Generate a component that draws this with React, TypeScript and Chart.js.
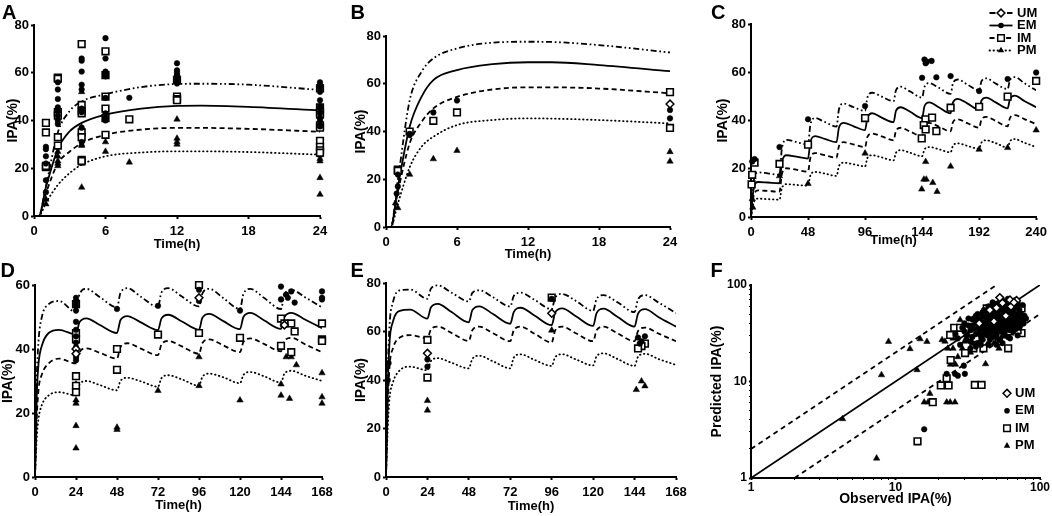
import React, { useEffect, useRef } from 'react';
import { Chart, registerables } from 'chart.js';

Chart.register(...registerables);

type Pt = [number, number];

// ---------------- Panel A (single dose, 0-24 h) ----------------
const A_T = [0, 0.4, 1, 2, 3, 4, 6, 9, 12, 14, 18, 24];
const A_UM = [0, 0, 12.5, 35, 44, 48, 51, 54, 55.3, 55.4, 55, 52.8];
const A_EM = [0, 0, 12, 28, 35.5, 39, 42.5, 45, 46.1, 46.2, 45.7, 44.2];
const A_IM = [0, 0, 9.5, 22, 27, 30.5, 34, 36.2, 36.9, 36.9, 36.5, 35.3];
const A_PM = [0, 0, 5.5, 13, 18, 21.5, 25, 26.6, 27.1, 27.1, 26.8, 25.7];
const A_PTS_UM: Pt[] = [];
const A_PTS_EM: Pt[] = [
  [1, 29], [1, 28], [1, 25], [1, 22], [1, 15], [1, 10],
  [2, 56], [2, 53], [2, 49], [2, 45.5], [2, 44], [2, 42], [2, 40], [2, 38.5],
  [4, 66], [4, 65], [4, 60.5], [4, 55], [4, 53], [4, 45], [4, 43.5], [4, 37], [4, 31],
  [6, 74.5], [6, 66], [6, 60.5], [6, 59.5], [6, 58.5], [6, 49.5], [6, 43], [6, 41], [6, 40],
  [8, 49.5],
  [12, 64], [12, 61], [12, 60], [12, 59], [12, 58.5], [12, 57.5], [12, 56.5], [12, 55.5],
  [24, 56], [24, 55], [24, 54.5], [24, 53.5], [24, 52], [24, 48.5], [24, 46], [24, 45], [24, 43], [24, 41], [24, 40], [24, 38], [24, 37.5],
];
const A_PTS_IM: Pt[] = [
  [1, 39], [1, 35], [1, 20.5], [1, 21],
  [2, 58], [2, 57.5], [2, 43.5], [2, 42], [2, 33], [2, 29.5],
  [4, 72], [4, 46.5], [4, 44], [4, 43], [4, 35], [4, 33], [4, 23.5], [4, 23],
  [6, 69], [6, 59], [6, 50], [6, 45], [6, 41], [6, 34],
  [8, 40.5],
  [12, 57], [12, 50], [12, 49], [12, 48.5],
  [24, 53.5], [24, 45.5], [24, 43.5], [24, 42.5], [24, 38], [24, 37], [24, 31.5], [24, 29], [24, 27.5], [24, 26.5],
];
const A_PTS_PM: Pt[] = [
  [1, 7], [1, 5], [2, 27], [2, 25], [2, 23], [2, 22], [2, 21],
  [4, 52], [4, 37], [4, 36], [4, 30], [4, 29.5], [4, 22], [4, 12],
  [6, 31], [6, 27], [8, 22.5], [12, 40.5], [12, 32.5], [12, 31], [12, 30],
  [24, 25.5], [24, 24], [24, 23], [24, 16], [24, 9],
];

// ---------------- Panel B ----------------
const B_T = [0, 0.4, 1, 2, 3, 4, 6, 9, 12, 14, 18, 24];
const B_UM = [0, 0, 19.6, 53, 65, 70.6, 74.8, 77.2, 77.6, 77.5, 76.2, 73.1];
const B_EM = [0, 0, 16.8, 42, 54.5, 61.5, 65.7, 68.2, 69, 69, 67.8, 65.3];
const B_IM = [0, 0, 14.7, 35, 44, 49.7, 54.5, 57.6, 58.5, 58.5, 58, 56];
const B_PM = [0, 0, 9.8, 25, 33.6, 37.8, 42.7, 44.8, 45.5, 45.4, 44.8, 43.4];
const B_PTS_UM: Pt[] = [[24, 51.5]];
const B_PTS_EM: Pt[] = [[1, 22], [1, 17], [0.9, 14], [2, 39], [2, 38.5], [4, 48], [6, 53], [24, 49], [24, 45.5]];
const B_PTS_IM: Pt[] = [[1, 24], [1, 23.5], [2, 40], [4, 44.5], [6, 48], [24, 56.5], [24, 41.5]];
const B_PTS_PM: Pt[] = [[1, 8], [0.8, 10], [2, 22], [4, 28.5], [6, 32], [24, 31.5], [24, 27.5]];

// ---------------- Panel C (0-240 h, dosing every 24 h) ----------------
const C_T = [0, 2, 6, 14, 24, 26, 30, 38, 48, 50, 54, 62, 72, 74, 78, 86, 96, 98, 102, 110, 120, 122, 126, 134,
  144, 146, 150, 158, 168, 170, 174, 182, 192, 194, 198, 206, 216, 218, 222, 230, 240];
const C_UM = [0, 14, 18.5, 18.1, 17.5, 28.4, 32, 31.1, 30, 38.3, 41, 39.4, 37.5, 44.6, 47, 45.6, 44, 49.6, 51.5, 49.9,
  48, 52.5, 54, 52, 49.5, 53.9, 55.5, 53.6, 51, 55.5, 57, 54.9, 52.5, 56.3, 57.5, 55.3, 53, 56.8, 58, 55.5, 52.5];
const C_EM = [0, 11, 14.5, 14.3, 14, 22.7, 25.6, 25, 24.2, 31.2, 33.5, 32.4, 31, 37, 39, 37.7, 36, 41.2, 43, 41.2,
  39.3, 44, 45.5, 43.6, 41, 45.9, 47.5, 45.5, 43, 47.5, 49, 47.1, 44.5, 48.3, 49.5, 47.5, 45, 49, 50.3, 48.1, 45.5];
const C_IM = [0, 8.3, 11, 10.8, 10.5, 17.8, 20.2, 19.6, 18.8, 24.6, 26.5, 25.6, 24.6, 29.4, 31, 30.1, 29, 33.2, 34.6, 33.4,
  31.8, 35.7, 37, 35.4, 33.5, 37.6, 39, 37.5, 35.5, 39.3, 40.5, 38.9, 37, 40.4, 41.5, 39.8, 37.6, 41.1, 42.2, 40.6, 38.5];
const C_PM = [0, 5.8, 7.6, 7.4, 7.2, 12, 13.6, 13.3, 13, 17.3, 18.7, 18, 17, 21.1, 22.5, 21.9, 21, 24.5, 25.6, 24.7,
  23.5, 26.6, 27.7, 26.6, 25.2, 28, 29, 28.1, 26.8, 29.6, 30.5, 29.5, 28.3, 30.9, 31.8, 30.6, 28.8, 31.4, 32.3, 30.8, 29];
const C_PTS_UM: Pt[] = [];
const C_PTS_EM: Pt[] = [[1, 23], [3, 24], [24, 29], [48, 40.5], [96, 46], [144, 57.7], [146, 65.3], [148, 64.4],
  [147, 63.7], [152, 64.7], [156, 57.9], [168, 58.4], [192, 52.2], [216, 57.2], [240, 59.9]];
const C_PTS_IM: Pt[] = [[0.5, 13.5], [1, 17.5], [3, 22.5], [24, 22], [48, 30], [96, 41], [146.8, 40.5], [152.4, 41.2],
  [145.4, 38.1], [147, 36.3], [156, 35.6], [143.7, 32.6], [168, 45.3], [192, 45.7], [216, 49.9], [240, 56.4]];
const C_PTS_PM: Pt[] = [[1, 7.5], [1.5, 4], [24, 17], [48, 13.8], [96, 26.4], [147, 22.9], [147.5, 15.6], [145.5, 15.6],
  [153, 14.2], [143.7, 11.5], [156.6, 10.5], [168, 21], [192, 28], [216, 28.7], [240, 36]];

// ---------------- Panels D & E (0-168 h) ----------------
const DE_T = [0, 1, 2, 4, 8, 14, 24, 26, 30, 38, 48, 50, 54, 62, 72, 74, 78, 86, 96, 98, 102, 110,
  120, 122, 126, 134, 144, 146, 150, 158, 168];
const D_UM = [0, 30, 42, 50, 54, 55, 51.5, 57, 58.8, 56.2, 53, 57.5, 59, 56.3, 53.2, 57.6, 59, 56.4, 53.3, 57.4, 58.8, 56,
  52.5, 57.2, 58.8, 56, 52.5, 57, 58.5, 56.2, 53];
const D_EM = [0, 25, 35, 41, 45, 46, 44.5, 48.3, 49.6, 47.5, 45, 49, 50.3, 48.3, 45.9, 49.5, 50.7, 48.6, 46, 49.8, 51, 48.8,
  46.2, 50, 51.3, 49, 46.3, 50, 51.3, 49.2, 46.5];
const D_IM = [0, 18, 27, 32, 35.5, 37, 35.5, 39, 40.2, 38.8, 37, 40.6, 41.8, 40.1, 38.1, 41.4, 42.5, 40.8, 38.5, 41.9, 43, 41.2,
  39, 42.2, 43.3, 41.6, 39.3, 42.5, 43.5, 41.5, 39];
const D_PM = [0, 12, 18, 22.5, 25.5, 26.5, 25.5, 28.9, 30, 28.7, 27.1, 30, 31, 29.9, 28.2, 30.9, 31.8, 30.5, 28.5, 31.3, 32.3, 31.2,
  29.3, 31.9, 32.8, 31.5, 29.5, 32.3, 33.2, 31.7, 30];
const D_PTS_UM: Pt[] = [[24, 40], [24, 38.5], [96, 56], [146, 47.5]];
const D_PTS_EM: Pt[] = [[24, 56], [24, 55], [24, 54.5], [24, 53.5], [24, 52], [24, 48.5], [24, 46], [24, 44], [24, 42],
  [24, 40.5], [24, 38.5], [24, 37.5], [24, 36.5], [48, 52.5], [72, 53.5], [96, 58.5], [96, 55], [120, 52],
  [144, 59.5], [147, 57], [150, 58], [144, 55.5], [148, 56], [152, 54.5], [168, 58], [168, 56], [168, 55.5]];
const D_PTS_IM: Pt[] = [[24, 54], [24, 45], [24, 43], [24, 31.5], [24, 28.5], [24, 26.5], [48, 40], [48, 33.5], [72, 44.5],
  [96, 60], [96, 45], [120, 43.5], [144, 49.5], [146, 48], [150, 48], [152, 45.5], [144, 41], [150, 39],
  [168, 48], [168, 43], [168, 42.5]];
const D_PTS_PM: Pt[] = [[24, 29], [24, 24], [24, 23], [24, 16], [24, 9], [48, 15.5], [48, 14.8], [72, 27], [96, 37.5],
  [96, 28.5], [120, 24], [147, 37.5], [150, 37.5], [153, 35], [144, 29], [144, 25.5], [149, 24.5], [168, 32.5],
  [168, 25], [168, 23]];

const E_UM = [0, 42, 62, 72, 77, 77.3, 73.5, 77.6, 79, 76, 72.4, 75.9, 77, 74.1, 70.3, 74.6, 76, 73.1, 69.2, 74, 75.5, 72.6,
  68.5, 73.4, 75, 72.1, 68, 73.3, 75, 71.9, 67.6];
const E_EM = [0, 36, 55, 64, 68.5, 69, 65.3, 69.9, 71.4, 68, 63.8, 68.8, 70.4, 67.2, 63.2, 68, 69.8, 66.6, 62.6, 67.8, 69.5, 66.3,
  62.3, 67.6, 69.4, 66.1, 62, 67.4, 69.2, 65.9, 62];
const E_IM = [0, 28, 45, 53, 57.5, 58.5, 57.2, 60.8, 62, 59.4, 56.1, 60.5, 62, 59.3, 56, 60.5, 62, 59.1, 55.5, 60.4, 62, 59.3,
  56, 60.5, 62, 59.3, 56, 60.2, 61.6, 59.1, 56];
const E_PM = [0, 20, 32, 39, 44, 45.5, 44, 47.8, 49, 47.1, 44.8, 48.7, 50, 47.7, 44.8, 49.2, 50.6, 48.3, 45.8, 49.4, 50.6, 48.5,
  46, 49.8, 51, 48.7, 45.8, 49.6, 50.8, 48.6, 46.2];
const E_PTS_UM: Pt[] = [[24, 51], [96, 67.5]];
const E_PTS_EM: Pt[] = [[1.5, 47], [1, 40], [24, 48.5], [24, 45.5], [96, 73.5], [150, 58], [146, 57.5], [148, 56], [147, 55]];
const E_PTS_IM: Pt[] = [[24, 56.5], [24, 41], [96, 74], [150, 55], [148, 54], [146, 53]];
const E_PTS_PM: Pt[] = [[24, 31.5], [24, 27.5], [96, 60.5], [148, 39.5], [150, 37.5], [145, 36]];

// ---------------- Panel F (observed vs predicted, log-log) ----------------
const F_LINE_ID: Pt[] = [[1, 1], [100, 100]];
const F_LINE_UP: Pt[] = [[1, 2], [50, 100]];
const F_LINE_LO: Pt[] = [[2, 1], [100, 50]];
const F_PTS_UM: Pt[] = [[52.7, 74], [68.8, 69], [45, 55], [58, 48], [63, 60], [48, 42], [38, 40], [55, 65], [62, 70],
  [66, 66], [50, 58]];
const F_PTS_EM: Pt[] = [
  [15.8, 3.2], [22.6, 12], [25.8, 12], [29.7, 14.6], [30.2, 12], [27, 11.5], [76.7, 42.7], [75.8, 62],
  [28, 24], [30, 33], [31, 27], [32, 38], [33, 22], [34, 29], [34, 44], [35, 35], [36, 31], [36, 40], [37, 25],
  [38, 44], [38, 34], [39, 38], [40, 27], [40, 47], [41, 31], [41, 34], [42, 40], [42, 52], [43, 30], [43, 36],
  [44, 50], [44, 24], [45, 43], [45, 38], [46, 33], [46, 56], [47, 29], [47, 39], [48, 46], [48, 35], [49, 52],
  [49, 42], [50, 36], [50, 30], [51, 61], [51, 44], [52, 48], [52, 27], [53, 33], [53, 40], [54, 39], [54, 58],
  [55, 55], [55, 44], [56, 30], [56, 36], [57, 50], [57, 41], [58, 36], [58, 65], [59, 42], [59, 47], [60, 47],
  [60, 29], [61, 58], [61, 38], [62, 34], [62, 44], [63, 52], [63, 40], [64, 40], [64, 68], [65, 45], [65, 33],
  [66, 63], [66, 50], [67, 37], [68, 50], [68, 42], [70, 42], [70, 58], [72, 55], [72, 36], [73, 38], [75, 45],
  [76, 43], [77, 40], [26, 31], [27, 28], [33, 26], [36, 23], [39, 24], [45, 27], [55, 25], [47, 66], [53, 70],
  [57, 62], [41, 55], [36, 48], [44, 60], [60, 72], [62, 28], [50, 24], [70, 30], [74, 50], [29, 36], [32, 45],
  [35, 45], [37, 50], [39, 30], [40, 41], [42, 36], [43, 45], [44, 32], [45, 48], [46, 41], [47, 52], [48, 38],
  [49, 33], [50, 50], [51, 39], [52, 55], [53, 45], [54, 35], [55, 49], [56, 42], [57, 33], [58, 55], [59, 38],
  [60, 52], [61, 44], [62, 62], [63, 36], [64, 49], [65, 55], [66, 44], [67, 58], [68, 35], [69, 47], [70, 66],
  [71, 50], [72, 44], [74, 40], [78, 48], [80, 45], [42, 46], [38, 36], [46, 60], [50, 64], [56, 68], [68, 70],
  [33, 34], [31, 30], [34, 38], [30, 40], [37, 42], [40, 52],
];
const F_PTS_IM: Pt[] = [
  [14.2, 2.4], [18.1, 6.1], [20.6, 9.1], [23.3, 9.1], [22.6, 10.8], [24.1, 16.7], [30.3, 19.7], [34.6, 22.1],
  [40.6, 22.1], [60.2, 22.1], [35.4, 9.2], [39.4, 9.2], [74.5, 57.2], [74.5, 31.7], [42.8, 57.2], [48.8, 55],
  [23.9, 30.4], [25.5, 36], [31.9, 35], [28, 36], [40, 38], [55, 35], [48, 30], [62, 33], [52, 26], [70, 34],
  [45, 46], [58, 42], [66, 38], [36, 28],
];
const F_PTS_PM: Pt[] = [
  [8.95, 25.9], [12.6, 21.8], [14.8, 27.6], [16.5, 25.9], [8, 11.7], [14.1, 13.2], [4.3, 4.1], [7.4, 1.6],
  [17.3, 7.5], [15.8, 6.1], [16.8, 6.1], [22.6, 6.1], [23.9, 6.1], [25.8, 6.1], [42, 15.2], [22, 26], [23, 22],
  [24, 15], [26, 15], [25, 28], [28, 43.5], [29, 22], [30, 26], [32, 30], [35, 25], [38, 32], [40, 28], [45, 35],
  [50, 38], [55, 30], [48, 25], [60, 42], [52, 22], [25, 22], [21, 27], [27, 18], [33, 20], [43, 24],
];
const F_LOG_TICKS = [1, 2, 3, 4, 5, 6, 7, 8, 9, 10, 20, 30, 40, 50, 60, 70, 80, 90, 100];
const F_LOG_LABELS = [1, 10, 100];

const GROUPS = ['UM', 'EM', 'IM', 'PM'] as const;

// ---------------- styling ----------------
const FONT = '"Liberation Sans", Arial, Helvetica, sans-serif';
const DASH: Record<string, number[]> = { UM: [6, 2.7, 1.7, 2.7, 1.7, 2.7], EM: [], IM: [5, 3.3], PM: [0.5, 3.5] };
const CAP: Record<string, string> = { UM: 'butt', EM: 'butt', IM: 'butt', PM: 'round' };
const MARK: Record<string, any> = {
  UM: { pointStyle: 'rectRot', pointRadius: 3.9, backgroundColor: '#fff', borderColor: '#000', borderWidth: 1.5 },
  EM: { pointStyle: 'circle', pointRadius: 2.8, backgroundColor: '#000', borderColor: '#000', borderWidth: 0.5 },
  IM: { pointStyle: 'rect', pointRadius: 4.7, backgroundColor: '#fff', borderColor: '#000', borderWidth: 1.6 },
  PM: { pointStyle: 'triangle', pointRadius: 3.7, backgroundColor: '#000', borderColor: '#000', borderWidth: 0.5 },
};

function drawMarker(ctx: CanvasRenderingContext2D, group: string, x: number, y: number) {
  ctx.save();
  ctx.setLineDash([]);
  ctx.lineWidth = 1.5;
  ctx.strokeStyle = '#000';
  ctx.beginPath();
  if (group === 'EM') {
    ctx.arc(x, y, 2.8, 0, Math.PI * 2);
    ctx.fillStyle = '#000';
    ctx.fill();
  } else if (group === 'IM') {
    const s = 3.3;
    ctx.rect(x - s, y - s, 2 * s, 2 * s);
    ctx.fillStyle = '#fff';
    ctx.fill();
    ctx.stroke();
  } else if (group === 'PM') {
    const r = 3.7;
    ctx.moveTo(x, y - r);
    ctx.lineTo(x + r * 0.866, y + r * 0.5);
    ctx.lineTo(x - r * 0.866, y + r * 0.5);
    ctx.closePath();
    ctx.fillStyle = '#000';
    ctx.fill();
  } else {
    const r = 3.9;
    ctx.moveTo(x, y - r);
    ctx.lineTo(x + r, y);
    ctx.lineTo(x, y + r);
    ctx.lineTo(x - r, y);
    ctx.closePath();
    ctx.fillStyle = '#fff';
    ctx.fill();
    ctx.stroke();
  }
  ctx.restore();
}

interface LegendSpec { x: number; textX: number; y: number; dy: number; lineLen: number }

function makeLegendPlugin(spec: LegendSpec) {
  return {
    id: 'phenoLegend',
    afterDatasetsDraw(chart: any) {
      const ctx: CanvasRenderingContext2D = chart.ctx;
      GROUPS.forEach((g, i) => {
        const y = spec.y + i * spec.dy;
        if (spec.lineLen > 0) {
          ctx.save();
          ctx.strokeStyle = '#000';
          ctx.lineWidth = 1.8;
          ctx.setLineDash(DASH[g]);
          ctx.lineCap = CAP[g] as CanvasLineCap;
          ctx.beginPath();
          ctx.moveTo(spec.x - spec.lineLen / 2, y);
          ctx.lineTo(spec.x + spec.lineLen / 2, y);
          ctx.stroke();
          ctx.restore();
        }
        drawMarker(ctx, g, spec.x, y);
        ctx.save();
        ctx.fillStyle = '#000';
        ctx.font = `bold 13px ${FONT}`;
        ctx.textBaseline = 'middle';
        ctx.textAlign = 'left';
        ctx.fillText(g, spec.textX, y);
        ctx.restore();
      });
    },
  };
}

const toXY = (a: Pt[]) => a.map(([x, y]) => ({ x, y }));
const curveXY = (xs: number[], ys: number[]) => xs.map((x, i) => ({ x, y: ys[i] }));

function tickFont(size: number) {
  return { family: FONT, size, weight: 'bold' as const };
}

function baseAxis(kind: 'x' | 'y', fit: number, title: string, titleSize: number, tickLen: number, pad: number, tickSize: number) {
  return {
    afterFit: (s: any) => {
      if (kind === 'x') s.height = fit;
      else s.width = fit;
    },
    ticks: { color: '#000', font: tickFont(tickSize), padding: pad, autoSkip: false, maxRotation: 0 },
    grid: { display: true, drawOnChartArea: false, drawTicks: true, tickLength: tickLen, tickWidth: 2, tickColor: '#000' },
    border: { display: true, color: '#000', width: 2 },
    title: { display: true, text: title, color: '#000', font: tickFont(titleSize), padding: 0 },
  };
}

function linAxis(kind: 'x' | 'y', min: number, max: number, step: number, fit: number, title: string, titleSize: number) {
  const b: any = baseAxis(kind, fit, title, titleSize, 3, kind === 'x' ? 5 : 2, 13);
  return { ...b, type: 'linear', min, max, ticks: { ...b.ticks, stepSize: step } };
}

function logAxis(kind: 'x' | 'y', fit: number, title: string) {
  const b: any = baseAxis(kind, fit, title, 14, 2, kind === 'x' ? 0 : 2, 12);
  return {
    ...b,
    type: 'logarithmic',
    min: 1,
    max: 100,
    afterBuildTicks: (s: any) => {
      s.ticks = F_LOG_TICKS.map((v) => ({ value: v, major: F_LOG_LABELS.includes(v) }));
    },
    ticks: { ...b.ticks, callback: (v: any) => (F_LOG_LABELS.includes(Number(v)) ? String(v) : '') },
    grid: {
      ...b.grid,
      tickWidth: (c: any) => (c.tick && F_LOG_LABELS.includes(c.tick.value) ? 2 : 1),
    },
  };
}

interface Box { L: number; T: number; W: number; H: number; padTop: number; padRight: number }

interface PanelSpec {
  letter: string;
  box: Box;
  datasets: any[];
  x: any;
  y: any;
  legend?: LegendSpec;
}

function pointDatasets(pts: Record<string, Pt[]>) {
  return GROUPS.map((g) => ({
    label: g + ' obs',
    data: toXY(pts[g]),
    showLine: false,
    clip: false,
    ...MARK[g],
  }));
}

function curveDatasets(t: number[], c: Record<string, number[]>) {
  return GROUPS.map((g) => ({
    label: g + ' pred',
    data: curveXY(t, c[g]),
    showLine: true,
    pointRadius: 0,
    borderColor: '#000',
    borderWidth: 1.8,
    borderDash: DASH[g],
    borderCapStyle: CAP[g],
    cubicInterpolationMode: 'monotone',
    fill: false,
  }));
}

function refLine(pts: Pt[], dash: number[]) {
  return {
    label: 'ref',
    data: toXY(pts),
    showLine: true,
    pointRadius: 0,
    borderColor: '#000',
    borderWidth: 1.8,
    borderDash: dash,
    fill: false,
  };
}

const PANELS: PanelSpec[] = [
  {
    letter: 'A',
    box: { L: 5, T: 0, W: 335, H: 252, padTop: 25, padRight: 20 },
    datasets: [
      ...pointDatasets({ UM: A_PTS_UM, EM: A_PTS_EM, IM: A_PTS_IM, PM: A_PTS_PM }),
      ...curveDatasets(A_T, { UM: A_UM, EM: A_EM, IM: A_IM, PM: A_PM }),
    ],
    x: linAxis('x', 0, 24, 6, 36, 'Time(h)', 13),
    y: linAxis('y', 0, 80, 20, 29, 'IPA(%)', 14),
  },
  {
    letter: 'B',
    box: { L: 353, T: 0, W: 339, H: 262, padTop: 36, padRight: 22 },
    datasets: [
      ...pointDatasets({ UM: B_PTS_UM, EM: B_PTS_EM, IM: B_PTS_IM, PM: B_PTS_PM }),
      ...curveDatasets(B_T, { UM: B_UM, EM: B_EM, IM: B_IM, PM: B_PM }),
    ],
    x: linAxis('x', 0, 24, 6, 35, 'Time(h)', 13),
    y: linAxis('y', 0, 80, 20, 33, 'IPA(%)', 14),
  },
  {
    letter: 'C',
    box: { L: 715, T: 0, W: 337, H: 248, padTop: 24, padRight: 15 },
    datasets: [
      ...pointDatasets({ UM: C_PTS_UM, EM: C_PTS_EM, IM: C_PTS_IM, PM: C_PTS_PM }),
      ...curveDatasets(C_T, { UM: C_UM, EM: C_EM, IM: C_IM, PM: C_PM }),
    ],
    x: linAxis('x', 0, 240, 48, 31, 'Time(h)', 13),
    y: linAxis('y', 0, 80, 20, 36, 'IPA(%)', 14),
    legend: { x: 286, textX: 302, y: 13, dy: 12.5, lineLen: 23 },
  },
  {
    letter: 'D',
    box: { L: 0, T: 258, W: 345, H: 255, padTop: 27, padRight: 23 },
    datasets: [
      ...pointDatasets({ UM: D_PTS_UM, EM: D_PTS_EM, IM: D_PTS_IM, PM: D_PTS_PM }),
      ...curveDatasets(DE_T, { UM: D_UM, EM: D_EM, IM: D_IM, PM: D_PM }),
    ],
    x: linAxis('x', 0, 168, 24, 36, 'Time(h)', 13),
    y: linAxis('y', 0, 60, 20, 35, 'IPA(%)', 14),
  },
  {
    letter: 'E',
    box: { L: 353, T: 258, W: 347, H: 256, padTop: 25, padRight: 24 },
    datasets: [
      ...pointDatasets({ UM: E_PTS_UM, EM: E_PTS_EM, IM: E_PTS_IM, PM: E_PTS_PM }),
      ...curveDatasets(DE_T, { UM: E_UM, EM: E_EM, IM: E_IM, PM: E_PM }),
    ],
    x: linAxis('x', 0, 168, 24, 37, 'Time(h)', 13),
    y: linAxis('y', 0, 80, 20, 33, 'IPA(%)', 14),
  },
  {
    letter: 'F',
    box: { L: 709, T: 258, W: 343, H: 250, padTop: 27, padRight: 12 },
    datasets: [
      ...pointDatasets({ UM: F_PTS_UM, EM: F_PTS_EM, IM: F_PTS_IM, PM: F_PTS_PM }),
      refLine(F_LINE_ID, []),
      refLine(F_LINE_UP, [5, 4]),
      refLine(F_LINE_LO, [5, 4]),
    ],
    x: logAxis('x', 30, 'Observed IPA(%)'),
    y: logAxis('y', 42, 'Predicted IPA(%)'),
    legend: { x: 298, textX: 306, y: 135.3, dy: 17.5, lineLen: 0 },
  },
];

const LETTER_POS: Record<string, [number, number]> = {
  A: [2, 2.4], B: [350.5, 2.4], C: [711, 2.4], D: [0.5, 260.4], E: [350.5, 260.4], F: [710.5, 260.4],
};

function Panel({ spec }: { spec: PanelSpec }) {
  const ref = useRef<HTMLCanvasElement>(null);
  useEffect(() => {
    if (!ref.current) return;
    const plugins: any[] = [];
    if (spec.legend) plugins.push(makeLegendPlugin(spec.legend));
    const chart = new Chart(ref.current, {
      type: 'scatter',
      data: { datasets: spec.datasets },
      options: {
        animation: false,
        responsive: true,
        maintainAspectRatio: false,
        events: [],
        layout: { padding: { left: 0, top: spec.box.padTop, right: spec.box.padRight, bottom: 0 } },
        plugins: { legend: { display: false }, tooltip: { enabled: false }, title: { display: false } },
        scales: { x: spec.x, y: spec.y },
      },
      plugins,
    } as any);
    return () => chart.destroy();
  }, [spec]);
  const { L, T, W, H } = spec.box;
  return (
    <div style={{ position: 'absolute', left: L, top: T, width: W, height: H }}>
      <canvas ref={ref} />
    </div>
  );
}

export default function App() {
  return (
    <div style={{ position: 'fixed', left: 0, top: 0, width: 1052, height: 516, background: '#fff', overflow: 'hidden' }}>
      {PANELS.map((p) => (
        <Panel key={p.letter} spec={p} />
      ))}
      {PANELS.map((p) => (
        <div
          key={'l' + p.letter}
          style={{
            position: 'absolute',
            left: LETTER_POS[p.letter][0],
            top: LETTER_POS[p.letter][1],
            font: `bold 20px/20px ${FONT}`,
            color: '#000',
          }}
        >
          {p.letter}
        </div>
      ))}
    </div>
  );
}
